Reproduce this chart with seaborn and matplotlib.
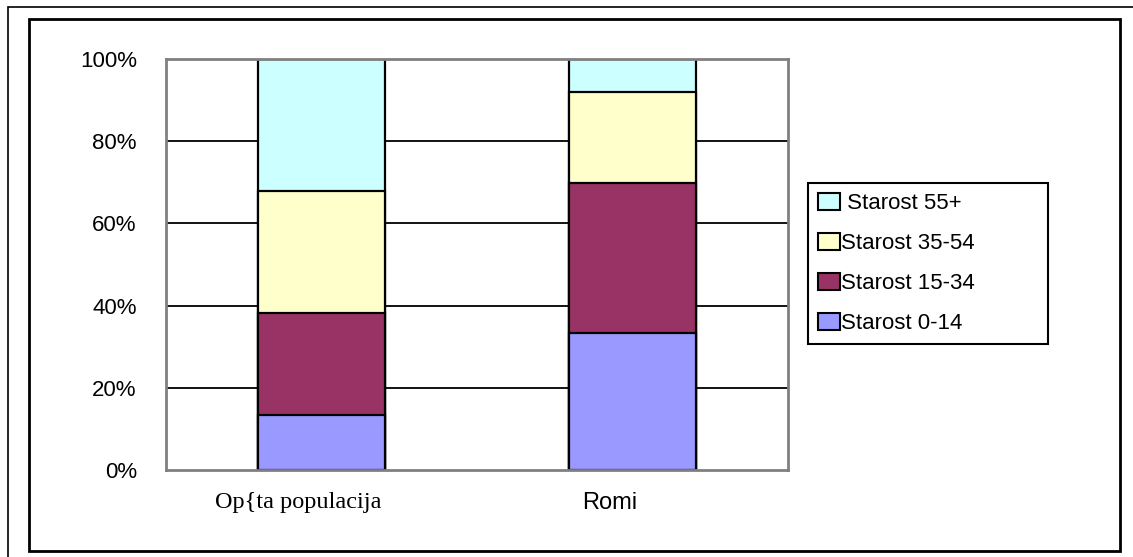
import matplotlib
matplotlib.use("Agg")
import matplotlib.pyplot as plt
import matplotlib.patches as mpatches
import matplotlib.transforms as mtransforms
import numpy as np
import pandas as pd
import seaborn as sns

# data (percent shares)
groups = ["Op{ta populacija", "Romi"]
age_labels = ["Starost 0-14", "Starost 15-34", "Starost 35-54", "Starost 55+"]
share_0_14 = [13.5, 33.4]
share_15_34 = [24.8, 36.5]
share_35_54 = [29.7, 22.1]
share_55 = [32.0, 8.0]
colors = ["#9999FF", "#993366", "#FFFFCC", "#CCFFFF"]

sns.set_style("white")
plt.rcParams["font.family"] = ["Liberation Sans", "DejaVu Sans"]
plt.rcParams["text.color"] = "black"
plt.rcParams["xtick.color"] = "black"
plt.rcParams["ytick.color"] = "black"

layers = np.array([share_0_14, share_15_34, share_35_54, share_55])
cum = layers.cumsum(axis=0)

W, H = 1133, 557
fig = plt.figure(figsize=(W / 100, H / 100), dpi=100)
ax = fig.add_axes([166 / W, 1 - 470 / H, 622 / W, 411 / H])

# gridlines behind bars
for v in [20, 40, 60, 80]:
    ax.axhline(v, color="black", lw=1.3, zorder=0)

# stacked bars: draw the tallest cumulative first so lower layers sit on top
for i in range(len(age_labels) - 1, -1, -1):
    df = pd.DataFrame({"grupa": groups, "val": cum[i]})
    sns.barplot(data=df, x="grupa", y="val", order=groups, color=colors[i],
                saturation=1, edgecolor="black", linewidth=1.6, width=0.41,
                ax=ax, zorder=2)

ax.set_xlim(-0.5, 1.5)
ax.set_ylim(0, 100)
ax.set_yticks([0, 20, 40, 60, 80, 100])
ax.set_yticklabels(["0%", "20%", "40%", "60%", "80%", "100%"], fontsize=16)
ax.set_xlabel("")
ax.set_ylabel("")
ax.tick_params(axis="y", length=0, pad=21)
ax.tick_params(axis="x", length=0, pad=16, labelsize=17)
labs = ax.get_xticklabels()
labs[0].set_fontfamily("Liberation Serif")
labs[0].set_fontsize(17.5)
shift = mtransforms.ScaledTranslation(-23 / 100, 0, fig.dpi_scale_trans)
for lab in ax.get_xticklabels():
    lab.set_transform(lab.get_transform() + shift)
for s in ax.spines.values():
    s.set_color("#808080")
    s.set_linewidth(2)

handles = [mpatches.Patch(facecolor=colors[i], edgecolor="black", lw=1.5)
           for i in range(3, -1, -1)]
names = [" " + age_labels[3]] + age_labels[2::-1]
leg = fig.legend(handles, names, loc="upper left", mode="expand",
                 bbox_to_anchor=(808 / W, 1 - 347 / H, 240 / W, 164 / H),
                 fontsize=16, frameon=True, fancybox=False, edgecolor="black",
                 framealpha=1, handlelength=1.0, handleheight=0.8,
                 handletextpad=0.05, labelspacing=0.84, borderpad=0.45,
                 borderaxespad=0)
leg.get_frame().set_linewidth(1.5)

# outer frames
fig.patches.append(mpatches.Rectangle((8 / W, -0.1), 1.2, 1 - 7 / H + 0.1,
                                      transform=fig.transFigure, fill=False,
                                      edgecolor="black", lw=1.2))
fig.patches.append(mpatches.Rectangle((29 / W, 1 - 551 / H), (1120 - 29) / W,
                                      (551 - 19) / H, transform=fig.transFigure,
                                      fill=False, edgecolor="black", lw=2))

fig.savefig("out.png", dpi=100)
